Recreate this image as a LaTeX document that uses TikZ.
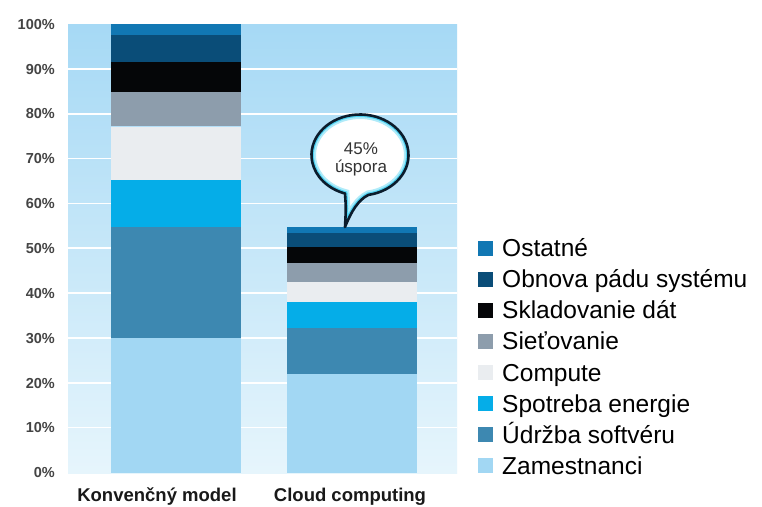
\documentclass[tikz,border=0pt]{standalone}
\usepackage{fontspec}
\setmainfont{Liberation Sans}
\definecolor{cOst}{HTML}{1177B3}
\definecolor{cObn}{HTML}{0A4D78}
\definecolor{cSkl}{HTML}{050608}
\definecolor{cSie}{HTML}{8D9DAC}
\definecolor{cCom}{HTML}{EAEDF0}
\definecolor{cSpo}{HTML}{05ADE8}
\definecolor{cUdr}{HTML}{3D88B1}
\definecolor{cZam}{HTML}{A2D7F3}
\definecolor{bgTop}{RGB}{166,217,245}
\definecolor{bgBot}{RGB}{230,245,252}
\definecolor{axisgray}{HTML}{444444}
\definecolor{rim}{HTML}{0B1C2C}
\definecolor{glow}{HTML}{4FD2F2}
\begin{document}
\begin{tikzpicture}[x=1pt,y=-1pt,
  axislbl/.style={anchor=base east,inner sep=0pt,text=axisgray,font=\fontsize{14.5}{16}\selectfont\bfseries},
  barlbl/.style={anchor=base,inner sep=0pt,text=black!90,font=\fontsize{18.5}{20}\selectfont\bfseries},
  legtext/.style={anchor=base west,inner sep=0pt,text=black,font=\fontsize{24.5}{26}\selectfont},
  legsq/.style={minimum size=15pt,inner sep=0pt,draw=none},
  bubbletext/.style={anchor=base,inner sep=0pt,text=black!80,font=\fontsize{17}{18}\selectfont}]
\useasboundingbox (0,0) rectangle (762,506);
\fill[white] (0,0) rectangle (762,506);

% plot background and grid
\shade[top color=bgTop,bottom color=bgBot] (68,24) rectangle (457,473);
\foreach \k in {1,...,9}
  \draw[white,line width=1.6pt] (68,{472.5-44.85*\k}) -- (457,{472.5-44.85*\k});

% y axis labels
\foreach \k/\t in {0/0,1/10,2/20,3/30,4/40,5/50,6/60,7/70,8/80,9/90,10/100}
  \node[axislbl] (y\k) at (55,{472.5-44.85*\k+5.2}) {\t\%};

% bar 1: conventional model
\fill[cZam] (111,473) rectangle (241,338);
\fill[cUdr] (111,338) rectangle (241,227);
\fill[cSpo] (111,227) rectangle (241,180);
\fill[cCom] (111,180) rectangle (241,127);
\fill[cSie] (111,126) rectangle (241,92);
\fill[cSkl] (111,92) rectangle (241,62);
\fill[cObn] (111,62) rectangle (241,35);
\fill[cOst] (111,35) rectangle (241,24);

% bar 2: cloud computing
\fill[cZam] (287,473) rectangle (417,374);
\fill[cUdr] (287,374) rectangle (417,328);
\fill[cSpo] (287,328) rectangle (417,302);
\fill[cCom] (287,302) rectangle (417,282);
\fill[cSie] (287,282) rectangle (417,263);
\fill[cSkl] (287,263) rectangle (417,247);
\fill[cObn] (287,247) rectangle (417,233);
\fill[cOst] (287,233) rectangle (417,227);

% bar captions
\node[barlbl] (b1) at (157,501.5) {Konvenčný model};
\node[barlbl] (b2) at (350,501.5) {Cloud computing};

% speech bubble
\def\bubble{(360,155) ++(80:48.5 and 40.5)
  arc[start angle=80,end angle=-252,x radius=48.5,y radius=40.5]
  .. controls (346,208) .. (345,227)
  .. controls (351,212) and (358,200) .. cycle}
\fill[white] \bubble;
\begin{scope}
  \clip \bubble;
  \draw[glow!45,line width=9pt] \bubble;
  \draw[glow,line width=5pt] \bubble;
\end{scope}
\draw[rim,line width=2.6pt,line join=round] \bubble;
\node[bubbletext] (s1) at (361,154) {45\%};
\node[bubbletext] (s2) at (361,172.5) {úspora};

% legend
\foreach \i/\c/\t in {0/cOst/Ostatné,1/cObn/Obnova pádu systému,2/cSkl/Skladovanie dát,
    3/cSie/Sieťovanie,4/cCom/Compute,5/cSpo/Spotreba energie,6/cUdr/Údržba softvéru,7/cZam/Zamestnanci}{
  \node[legsq,fill=\c] (sq\i) at (485.5,{248+31.1*\i}) {};
  \node[legtext] (lt\i) at (502,{248+31.1*\i+8.6}) {\t};
}
\end{tikzpicture}
\end{document}
